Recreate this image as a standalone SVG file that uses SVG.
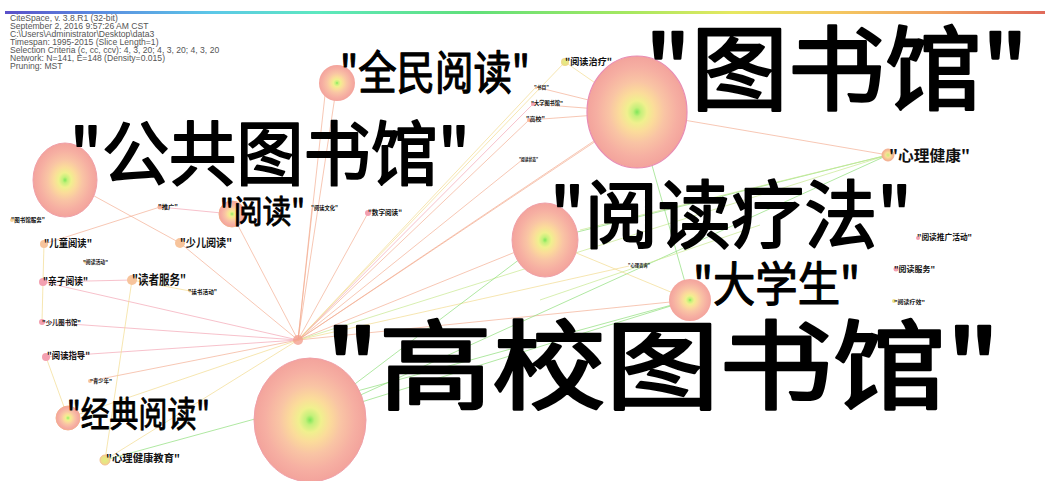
<svg xmlns="http://www.w3.org/2000/svg" width="1045" height="481" viewBox="0 0 1045 481">
<defs>
<linearGradient id="bar" x1="0" y1="0" x2="1" y2="0">
<stop offset="0" stop-color="#5a4fc8"/><stop offset="0.08" stop-color="#5b86df"/><stop offset="0.2" stop-color="#5cc8e8"/><stop offset="0.3" stop-color="#5de8c0"/><stop offset="0.45" stop-color="#60e07a"/><stop offset="0.6" stop-color="#a6e860"/><stop offset="0.7" stop-color="#e6e860"/><stop offset="0.8" stop-color="#f4c860"/><stop offset="0.9" stop-color="#f0a060"/><stop offset="1" stop-color="#e06a5a"/>
</linearGradient>
<radialGradient id="big">
<stop offset="0" stop-color="#7fe65a"/><stop offset="0.08" stop-color="#c4f07a"/><stop offset="0.2" stop-color="#f0f08e"/><stop offset="0.35" stop-color="#fbdc9a"/><stop offset="0.55" stop-color="#f9c4a4"/><stop offset="0.8" stop-color="#f6afa2"/><stop offset="1" stop-color="#f3a39c"/>
</radialGradient>
<radialGradient id="sm">
<stop offset="0" stop-color="#c8ee78"/><stop offset="0.4" stop-color="#f8e096"/><stop offset="1" stop-color="#f2aa90"/>
</radialGradient>
<radialGradient id="yl">
<stop offset="0" stop-color="#e0f080"/><stop offset="1" stop-color="#f0d88a"/>
</radialGradient>
</defs>
<style>
.hd{font-family:"Liberation Sans",Arial,sans-serif;font-size:8.6px;fill:#555}
.L{font-family:"Noto Sans CJK SC","Noto Sans",sans-serif;fill:#000;stroke:#000;stroke-linejoin:round}
.s{font-family:"Noto Sans CJK SC","Noto Sans",sans-serif;font-weight:bold;fill:#111}
.o{stroke:#f3a98c;stroke-width:1;opacity:.65;fill:none}
.p{stroke:#f08ea0;stroke-width:1;opacity:.55;fill:none}
.y{stroke:#f2dc90;stroke-width:1;opacity:.7;fill:none}
.g{stroke:#8ede7a;stroke-width:1;opacity:.7;fill:none}
.gy{stroke:#c8e890;stroke-width:1;opacity:.7;fill:none}
.pk{fill:#f3a0b0}
.yn{fill:url(#yl)}
</style>
<rect width="1045" height="481" fill="#fff"/>
<rect x="5" y="11" width="1040" height="3" fill="url(#bar)"/>
<g id="header">
<text class="hd" x="10" y="21">CiteSpace, v. 3.8.R1 (32-bit)</text>
<text class="hd" x="10" y="29">September 2, 2016 9:57:26 AM CST</text>
<text class="hd" x="10" y="37">C:\Users\Administrator\Desktop\data3</text>
<text class="hd" x="10" y="45">Timespan: 1995-2015 (Slice Length=1)</text>
<text class="hd" x="10" y="53">Selection Criteria (c, cc, ccv): 4, 3, 20; 4, 3, 20; 4, 3, 20</text>
<text class="hd" x="10" y="61">Network: N=141, E=148 (Density=0.015)</text>
<text class="hd" x="10" y="69">Pruning: MST</text>
</g>
<g id="connectors">
<line class="o" x1="298" y1="340" x2="637" y2="112"/>
<line class="o" x1="298" y1="340" x2="620" y2="125"/>
<line class="o" x1="298" y1="340" x2="545" y2="240"/>
<line class="o" x1="298" y1="340" x2="337" y2="83"/>
<line class="o" x1="298" y1="340" x2="325" y2="95"/>
<line class="o" x1="298" y1="340" x2="232" y2="214"/>
<line class="o" x1="298" y1="340" x2="180" y2="243"/>
<line class="o" x1="180" y1="243" x2="65" y2="180"/>
<line class="p" x1="298" y1="340" x2="43" y2="282"/>
<line class="p" x1="298" y1="340" x2="42" y2="322"/>
<line class="p" x1="298" y1="340" x2="46" y2="357"/>
<line class="o" x1="298" y1="340" x2="90" y2="381"/>
<line class="y" x1="298" y1="340" x2="68" y2="418"/>
<line class="y" x1="298" y1="340" x2="105" y2="460"/>
<line class="o" x1="298" y1="340" x2="312" y2="208"/>
<line class="o" x1="298" y1="340" x2="368" y2="213"/>
<line class="y" x1="298" y1="340" x2="565" y2="62"/>
<line class="p" x1="298" y1="340" x2="533" y2="104"/>
<line class="o" x1="298" y1="340" x2="529" y2="120"/>
<line class="y" x1="298" y1="340" x2="536" y2="87"/>
<line class="o" x1="298" y1="340" x2="522" y2="160"/>
<line class="gy" x1="298" y1="340" x2="888" y2="155"/>
<line class="o" x1="298" y1="340" x2="690" y2="300"/>
<line class="y" x1="298" y1="340" x2="629" y2="266"/>
<line class="p" x1="160" y1="207" x2="232" y2="214"/>
<line class="o" x1="160" y1="207" x2="44" y2="244"/>
<line class="y" x1="44" y1="244" x2="43" y2="282"/>
<line class="y" x1="43" y1="282" x2="42" y2="322"/>
<line class="p" x1="43" y1="282" x2="132" y2="280"/>
<line class="y" x1="132" y1="280" x2="190" y2="291"/>
<line class="y" x1="46" y1="357" x2="68" y2="418"/>
<line class="y" x1="132" y1="280" x2="105" y2="460"/>
<line class="g" x1="637" y1="112" x2="690" y2="300"/>
<line class="y" x1="637" y1="112" x2="565" y2="62"/>
<line class="o" x1="637" y1="112" x2="536" y2="87"/>
<line class="o" x1="637" y1="112" x2="533" y2="104"/>
<line class="o" x1="637" y1="112" x2="529" y2="120"/>
<line class="o" x1="637" y1="112" x2="888" y2="155"/>
<line class="g" x1="888" y1="155" x2="545" y2="240"/>
<line class="gy" x1="888" y1="155" x2="580" y2="230"/>
<line class="g" x1="888" y1="155" x2="310" y2="418"/>
<line class="g" x1="310" y1="418" x2="690" y2="300"/>
<line class="g" x1="310" y1="418" x2="545" y2="240"/>
<line class="g" x1="105" y1="460" x2="690" y2="300"/>
<line class="y" x1="545" y1="240" x2="690" y2="300"/>
<line class="gy" x1="540" y1="300" x2="760" y2="225"/>
</g>
<g id="n-gaoxiao"><ellipse cx="310" cy="420" rx="56" ry="62" fill="url(#big)" stroke="#f0a0a8"/><text class="L" x="325" y="401" font-size="97" stroke-width="2.6" textLength="675" lengthAdjust="spacingAndGlyphs">"高校图书馆"</text></g>
<g id="n-tushuguan"><ellipse cx="637" cy="112" rx="50" ry="56" fill="url(#big)" stroke="#e88cb4" stroke-width="1.2"/><text class="L" x="645" y="103" font-size="92" stroke-width="2.5" textLength="383" lengthAdjust="spacingAndGlyphs">"图书馆"</text></g>
<g id="n-gonggong"><ellipse cx="65" cy="180" rx="32" ry="37" fill="url(#big)" stroke="#f0a0a8"/><text class="L" x="70" y="180" font-size="70" stroke-width="1.9" textLength="400" lengthAdjust="spacingAndGlyphs">"公共图书馆"</text></g>
<g id="n-liaofa"><ellipse cx="545" cy="240" rx="33" ry="37" fill="url(#big)" stroke="#f0a0a8"/><text class="L" x="550" y="242" font-size="74" stroke-width="2" textLength="362" lengthAdjust="spacingAndGlyphs">"阅读疗法"</text></g>
<g id="n-quanmin"><circle cx="337" cy="83" r="18" fill="url(#big)"/><text class="L" x="340" y="89" font-size="46" stroke-width="1.2" textLength="190" lengthAdjust="spacingAndGlyphs">"全民阅读"</text></g>
<g id="n-daxuesheng"><circle cx="690" cy="300" r="21" fill="url(#big)"/><text class="L" x="693" y="301" font-size="47" stroke-width="1.2" textLength="167" lengthAdjust="spacingAndGlyphs">"大学生"</text></g>
<g id="n-yuedu"><circle cx="232" cy="214" r="13" fill="url(#big)" stroke="#f4b090"/><text class="L" x="220" y="223" font-size="32" stroke-width="0.9" textLength="85" lengthAdjust="spacingAndGlyphs">"阅读"</text></g>
<g id="n-jingdian"><circle cx="68" cy="418" r="12" fill="url(#big)" stroke="#f4b090"/><text class="L" x="67" y="427" font-size="35" stroke-width="0.9" textLength="143" lengthAdjust="spacingAndGlyphs">"经典阅读"</text></g>
<g id="n-xinli"><circle cx="888" cy="155" r="6" fill="url(#sm)" stroke="#f4b090"/><text class="s" x="889" y="161" font-size="15" textLength="81" lengthAdjust="spacingAndGlyphs">"心理健康"</text></g>
<g id="n-xinlijiaoyu"><circle cx="105" cy="460" r="5" class="yn" stroke="#f4c090"/><text class="s" x="106" y="462" font-size="10.5" textLength="74" lengthAdjust="spacingAndGlyphs">"心理健康教育"</text></g>
<g id="n-shaoer"><circle cx="180" cy="243" r="5" fill="#f7c49c"/><text class="s" x="180" y="247" font-size="11.5" textLength="52" lengthAdjust="spacingAndGlyphs">"少儿阅读"</text></g>
<g id="n-ertong"><circle cx="44" cy="244" r="4" fill="#f7c49c"/><text class="s" x="44" y="247" font-size="10.5" textLength="48" lengthAdjust="spacingAndGlyphs">"儿童阅读"</text></g>
<g id="n-qinzi"><circle cx="43" cy="282" r="4" class="pk"/><text class="s" x="43" y="285" font-size="10" textLength="45" lengthAdjust="spacingAndGlyphs">"亲子阅读"</text></g>
<g id="n-duzhe"><circle cx="132" cy="280" r="5" fill="#f7c49c"/><text class="s" x="132" y="284" font-size="13" textLength="54" lengthAdjust="spacingAndGlyphs">"读者服务"</text></g>
<g id="n-shaoertsg"><circle cx="42" cy="322" r="3" class="pk"/><text class="s" x="42" y="325" font-size="6.5" textLength="39" lengthAdjust="spacingAndGlyphs">"少儿图书馆"</text></g>
<g id="n-zhidao"><circle cx="46" cy="357" r="4" class="pk"/><text class="s" x="47" y="359" font-size="9.5" textLength="43" lengthAdjust="spacingAndGlyphs">"阅读指导"</text></g>
<g id="n-qingshaonian"><circle cx="90" cy="381" r="2" fill="#f7c49c"/><text class="s" x="90" y="383" font-size="5.5" textLength="22" lengthAdjust="spacingAndGlyphs">"青少年"</text></g>
<g id="n-fuwu"><circle cx="12" cy="220" r="2" fill="#f7d49c"/><text class="s" x="11" y="222" font-size="6" textLength="34" lengthAdjust="spacingAndGlyphs">"图书馆服务"</text></g>
<g id="n-tuiguang"><circle cx="160" cy="207" r="2.5" fill="#f7b49c"/><text class="s" x="158" y="209" font-size="6" textLength="20" lengthAdjust="spacingAndGlyphs">"推广"</text></g>
<g id="n-huodong"><circle cx="85" cy="262" r="1.5" fill="#f7d49c"/><text class="s" x="83" y="264" font-size="5.5" textLength="25" lengthAdjust="spacingAndGlyphs">"阅读活动"</text></g>
<g id="n-dushu"><circle cx="190" cy="291" r="1.5" fill="#f7d49c"/><text class="s" x="188" y="294" font-size="6" textLength="29" lengthAdjust="spacingAndGlyphs">"读书活动"</text></g>
<g id="n-wenhua"><text class="s" x="311" y="210" font-size="6" textLength="27" lengthAdjust="spacingAndGlyphs">"阅读文化"</text></g>
<g id="n-shuzi"><circle cx="368" cy="213" r="3" class="pk"/><text class="s" x="368" y="215" font-size="7" textLength="34" lengthAdjust="spacingAndGlyphs">"数字阅读"</text></g>
<g id="n-zhiliao"><circle cx="565" cy="62" r="4" class="yn"/><text class="s" x="565" y="65" font-size="9.5" textLength="47" lengthAdjust="spacingAndGlyphs">"阅读治疗"</text></g>
<g id="n-shumu"><circle cx="536" cy="88" r="1" fill="#f7c49c"/><text class="s" x="534" y="89" font-size="5" textLength="15" lengthAdjust="spacingAndGlyphs">"书目"</text></g>
<g id="n-daxuetsg"><circle cx="533" cy="104" r="2" class="pk"/><text class="s" x="531" y="105" font-size="5.5" textLength="32" lengthAdjust="spacingAndGlyphs">"大学图书馆"</text></g>
<g id="n-gaoxiao2"><circle cx="529" cy="120" r="2" fill="#f7b49c"/><text class="s" x="526" y="121" font-size="6" textLength="19" lengthAdjust="spacingAndGlyphs">"高校"</text></g>
<g id="n-zhuangtai"><text class="s" x="519" y="161" font-size="5" textLength="19" lengthAdjust="spacingAndGlyphs">"阅读状态"</text></g>
<g id="n-zixun"><text class="s" x="628" y="267" font-size="5" textLength="22" lengthAdjust="spacingAndGlyphs">"心理咨询"</text></g>
<g id="n-tuiguanghd"><circle cx="918" cy="238" r="2" class="pk"/><text class="s" x="917" y="240" font-size="8" textLength="55" lengthAdjust="spacingAndGlyphs">"阅读推广活动"</text></g>
<g id="n-yddfw"><circle cx="896" cy="269" r="2.5" class="pk"/><text class="s" x="894" y="272" font-size="8" textLength="41" lengthAdjust="spacingAndGlyphs">"阅读服务"</text></g>
<g id="n-liaoxiao"><circle cx="894" cy="301" r="2" class="yn"/><text class="s" x="894" y="304" font-size="5.5" textLength="31" lengthAdjust="spacingAndGlyphs">"阅读疗效"</text></g>
<g id="n-hub"><circle cx="298" cy="340" r="5" fill="#f4a090" opacity="0.8"/></g>
</svg>
